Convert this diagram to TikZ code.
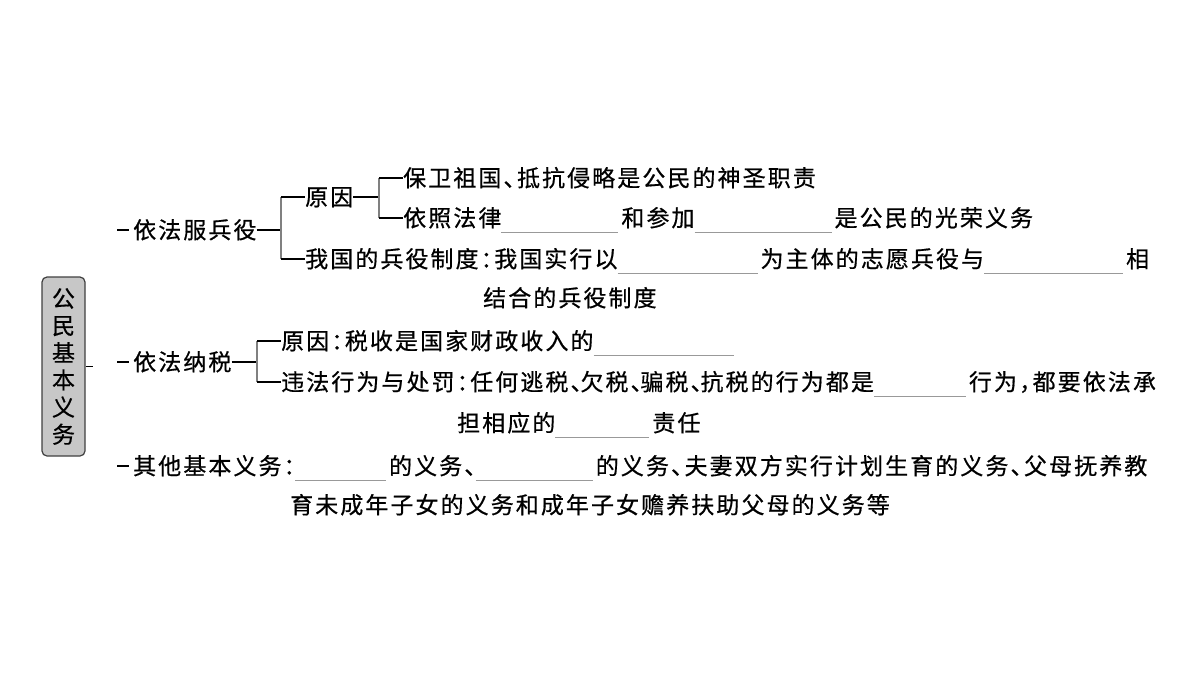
\documentclass[tikz,border=0pt]{standalone}
\usepackage{fontspec}
\newfontfamily\cjk[LetterSpace=9,RawFeature=+halt,FakeBold=0.6]{Noto Sans CJK SC}
\newcommand\blank[1]{\smash{\color{black!40}\rule[-6pt]{#1pt}{0.9pt}}\hspace{3pt}}

\begin{document}
\begin{tikzpicture}[x=1pt,y=-1pt,
   every node/.style={inner sep=0pt},
   txt/.style={anchor=west,font={\cjk\fontsize{23}{27}\selectfont},text height=20pt,text depth=3pt},
   stub/.style={line width=1.4pt},
   fork/.style={line width=1.1pt,black!50}]
   \useasboundingbox (0,0) rectangle (1200,675);

   \node[draw=black!75,fill=black!22,rounded corners=5pt,line width=1.2pt,
      minimum width=43pt,minimum height=179pt,align=center,
      font={\cjk\fontsize{23}{27.2}\selectfont}] (r) at (63.5,366.5) {公\\民\\基\\本\\义\\务};
   \coordinate (r0) at (93,366.5);
   \draw[stub] (r.east) -- (r0);

   \node[txt] (b1) at (133,230) {依法服兵役};
   \node[txt] (b2) at (133,362) {依法纳税};
   \node[txt] (b3) at (133,466) {其他基本义务：\blank{91}的义务、\blank{117}的义务、夫妻双方实行计划生育的义务、父母抚养教};
   \node[txt] (b3x) at (290,505) {育未成年子女的义务和成年子女赡养扶助父母的义务等};
   \coordinate (s1) at (117,230);
   \coordinate (s2) at (117,362);
   \coordinate (s3) at (117,466);
   \draw[stub] (s1) -- ([xshift=-4pt]b1.west);
   \draw[stub] (s2) -- ([xshift=-4pt]b2.west);
   \draw[stub] (s3) -- ([xshift=-4pt]b3.west);

   \node[txt] (c1) at (305,197) {原因};
   \node[txt] (c2) at (305,259) {我国的兵役制度：我国实行以\blank{140}为主体的志愿兵役与\blank{139}相};
   \node[txt] (c2x) at (483,298) {结合的兵役制度};
   \coordinate (j1) at (281,230);
   \draw[stub] (b1.east) -- (j1);
   \draw[fork] (j1 |- c1.west) -- (j1 |- c2.west);
   \draw[stub] (j1 |- c1.west) -- (c1.west);
   \draw[stub] (j1 |- c2.west) -- (c2.west);

   \node[txt] (d1) at (403,178) {保卫祖国、抵抗侵略是公民的神圣职责};
   \node[txt] (d2) at (403,218) {依照法律\blank{117}和参加\blank{137}是公民的光荣义务};
   \coordinate (j2) at (379,197);
   \draw[stub] (c1.east) -- (j2);
   \draw[fork] (j2 |- d1.west) -- (j2 |- d2.west);
   \draw[stub] (j2 |- d1.west) -- (d1.west);
   \draw[stub] (j2 |- d2.west) -- (d2.west);

   \node[txt] (e1) at (281,341) {原因：税收是国家财政收入的\blank{140}};
   \node[txt] (e2) at (281,382) {违法行为与处罚：任何逃税、\kern-1.6pt欠税、\kern-1.6pt骗税、\kern-1.6pt抗税的行为都是\blank{92}行为，都要依法承};
   \node[txt] (e2x) at (457,423) {担相应的\blank{94}责任};
   \coordinate (j3) at (257,362);
   \draw[stub] (b2.east) -- (j3);
   \draw[fork] (j3 |- e1.west) -- (j3 |- e2.west);
   \draw[stub] (j3 |- e1.west) -- (e1.west);
   \draw[stub] (j3 |- e2.west) -- (e2.west);
\end{tikzpicture}
\end{document}
